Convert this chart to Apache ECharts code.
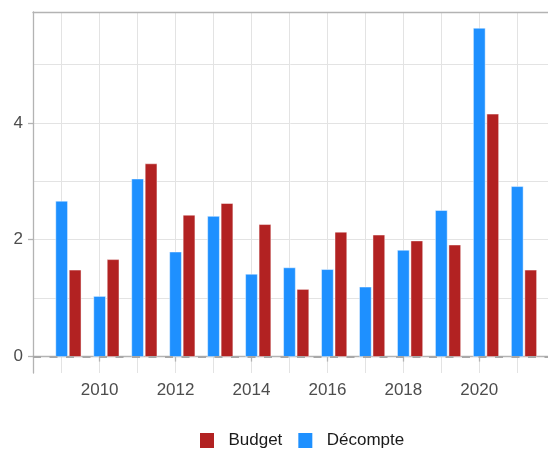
<!DOCTYPE html>
<html><head><meta charset="utf-8">
<script src="https://cdn.jsdelivr.net/npm/echarts@6/dist/echarts.min.js"></script>
<style>html,body{margin:0;padding:0;background:#fff}#c{width:548px;height:450px}</style>
</head><body><div id="c"></div>
<script>
const years = [2009,2010,2011,2012,2013,2014,2015,2016,2017,2018,2019,2020,2021];
const decompte = [2.66,1.03,3.04,1.79,2.40,1.41,1.52,1.49,1.19,1.82,2.50,5.62,2.91];
const budget   = [1.48,1.66,3.30,2.42,2.62,2.26,1.15,2.13,2.08,1.98,1.91,4.15,1.48];
const xTickLabels = [2010,2012,2014,2016,2018,2020];
const yTickLabels = [0,2,4];
const xGrid = years.slice();
const yGrid = [0,1,2,3,4,5];

const X_MIN = 2008.245, X_MAX = 2021.81;
const Y_MIN = -0.281, Y_MAX = 5.898;
const FONT = 'Liberation Sans, Arial, sans-serif';

function barRenderer(off0, off1) {
  return function (params, api) {
    const x = api.value(0), v = api.value(1);
    const p0 = api.coord([x + off0, v]);
    const p1 = api.coord([x + off1, 0]);
    return {
      type: 'rect',
      shape: { x: p0[0], y: p0[1], width: p1[0] - p0[0], height: p1[1] - p0[1] },
      style: { fill: api.visual('color'), stroke: 'rgba(255,255,255,0.45)', lineWidth: 1 }
    };
  };
}

const chart = echarts.init(document.getElementById('c'), null, { renderer: 'canvas' });
chart.setOption({
  animation: false,
  backgroundColor: '#ffffff',
  textStyle: { fontFamily: FONT },
  grid: { left: 33, right: 0, top: 12, bottom: 77 },
  legend: {
    left: 200, top: 432, padding: 0,
    itemWidth: 14, itemHeight: 15, itemGap: 16,
    icon: 'rect',
    data: ['Budget', 'Décompte'],
    formatter: name => '  ' + name,
    textStyle: { fontSize: 17, color: '#1a1a1a', fontFamily: FONT }
  },
  xAxis: [
    {
      type: 'value', position: 'bottom', min: X_MIN, max: X_MAX,
      axisLine: { show: true, lineStyle: { color: '#b3b3b3', width: 1.3 } },
      axisTick: { show: true, length: 5, lineStyle: { color: '#b3b3b3', width: 1.3 }, customValues: xTickLabels },
      axisLabel: { customValues: xTickLabels, margin: 9, fontSize: 17, color: '#4d4d4d', fontFamily: FONT, formatter: v => String(v) },
      splitLine: { show: false }
    },
    {
      type: 'value', position: 'top', min: X_MIN, max: X_MAX,
      axisLine: { show: true, onZero: false, lineStyle: { color: '#b3b3b3', width: 1.3 } },
      axisTick: { show: false, customValues: xGrid },
      axisLabel: { show: false, customValues: xGrid },
      splitLine: { show: true, lineStyle: { color: '#e3e3e3', width: 1 } }
    }
  ],
  yAxis: [
    {
      type: 'value', position: 'left', min: Y_MIN, max: Y_MAX,
      axisLine: { show: true, onZero: false, lineStyle: { color: '#b3b3b3', width: 1.3 } },
      axisTick: { show: true, length: 5, lineStyle: { color: '#b3b3b3', width: 1.3 }, customValues: yTickLabels },
      axisLabel: { customValues: yTickLabels, margin: 10, fontSize: 17, color: '#4d4d4d', fontFamily: FONT, formatter: v => String(v) },
      splitLine: { show: false }
    },
    {
      type: 'value', position: 'right', min: Y_MIN, max: Y_MAX,
      axisLine: { show: false },
      axisTick: { show: false, customValues: yGrid },
      axisLabel: { show: false, customValues: yGrid },
      splitLine: { show: true, lineStyle: { color: '#e3e3e3', width: 1 } }
    }
  ],
  series: [
    {
      name: 'Budget', type: 'custom', xAxisIndex: 0, yAxisIndex: 0,
      itemStyle: { color: '#B22222' },
      renderItem: barRenderer(0.2, 0.51),
      encode: { x: 0, y: 1 },
      data: years.map((y, i) => [y, budget[i]])
    },
    {
      name: 'Décompte', type: 'custom', xAxisIndex: 0, yAxisIndex: 0,
      itemStyle: { color: '#1E90FF' },
      renderItem: barRenderer(-0.155, 0.155),
      encode: { x: 0, y: 1 },
      data: years.map((y, i) => [y, decompte[i]]),
      markLine: {
        silent: true, symbol: 'none', label: { show: false }, z: 10,
        lineStyle: { color: '#a8a8a8', width: 2, type: [8, 8.5], opacity: 1 },
        emphasis: { disabled: true },
        data: [{ yAxis: 0 }]
      }
    }
  ]
});
</script></body></html>
